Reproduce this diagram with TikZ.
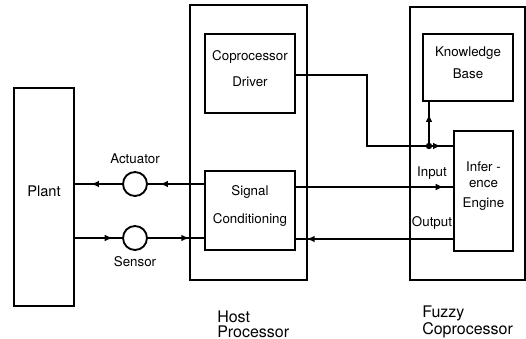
\documentclass[tikz,border=0pt]{standalone}
\usepackage{fontspec}
\setmainfont{TeX Gyre Heros}
\usepackage{tikz}
\usetikzlibrary{arrows.meta,positioning,calc,fit}

\begin{document}
\begin{tikzpicture}[
  x=0.75pt, y=-0.75pt,
  blkBox/.style ={rectangle, draw=black, line width=1.4pt, inner sep=0pt, align=center, font=\fontsize{10}{12}\selectfont},
  grpBox/.style ={rectangle, draw=black, line width=1.4pt, inner sep=0pt},
  xducer/.style ={circle, draw=black, line width=1.4pt, inner sep=0pt, minimum size=18pt},
  sigLine/.style={line width=1.6pt},
  sigTip/.style ={sigLine, postaction={draw, -{Latex[length=6pt,width=5pt]}, shorten >=#1}},
  sigTip/.default=0pt,
  lbl/.style    ={font=\fontsize{10}{12}\selectfont, inner sep=1pt},
  grpLbl/.style ={font=\fontsize{12}{11}\selectfont, align=left, anchor=west, inner sep=0pt},
]
\useasboundingbox (0,0) rectangle (526,339);

% plant and the two processors
\node (plant) [blkBox, fit={(14,88) (74,306)}, font=\fontsize{11}{13}\selectfont] {Plant};
\node (host)  [grpBox, fit={(190,5) (307,280)}] {};
\node (drv)   [blkBox, fit={(205,34) (295,113)}] {Coprocessor\\[8pt]Driver};
\node (sc)    [blkBox, fit={(205,171) (295,250)}] {Signal\\[9pt]Conditioning};
\node (fuzzy) [grpBox, fit={(410,7) (525,280)}] {};
\node (kb)    [blkBox, fit={(423,34) (513,101)}] {Knowledge\\[4pt]Base};
\node (ie)    [blkBox, fit={(454,131) (513,251)}] {Infer -\\ence\\[3pt]Engine};

% actuator and sensor
\node (act) [xducer] at (135,184) {};
\node (sen) [xducer] at (135,238) {};
\node (actLbl) [lbl, above=4pt of act] {Actuator};
\node (senLbl) [lbl, below=3pt of sen] {Sensor};

\draw[sigTip=9pt]  (sc.west |- act) -- (act.east);
\draw[sigTip=12pt] (act.west) -- (plant.east |- act);
\draw[sigTip=7pt]  (plant.east |- sen) -- (sen.west);
\draw[sigTip=11pt] (sen.east) -- (sc.west |- sen);

% driver to inference engine and knowledge base
\coordinate (bendA) at (367,75);
\coordinate (jn) at (429,146);
\draw[sigTip=9pt] (drv.east |- bendA) -- (bendA) |- (ie.west |- jn);
\draw[sigTip=9pt] (jn) -- (kb.south -| jn);
\fill (jn) circle (2.4pt);

% input / output
\coordinate (inRow) at (0,187);
\coordinate (outRow) at (0,239);
\draw[sigTip=7pt] (sc.east |- inRow) -- (ie.west |- inRow);
\draw[sigTip=8pt] (ie.west |- outRow) -- (sc.east |- outRow);
\node (inLbl)  [lbl] at (432,173) {Input};
\node (outLbl) [lbl] at (432,223) {Output};

\node (hostLbl) [grpLbl] at (217,324) {Host\\Processor};
\node (fuzLbl)  [grpLbl] at (422,322) {Fuzzy\\Coprocessor};
\end{tikzpicture}
\end{document}
